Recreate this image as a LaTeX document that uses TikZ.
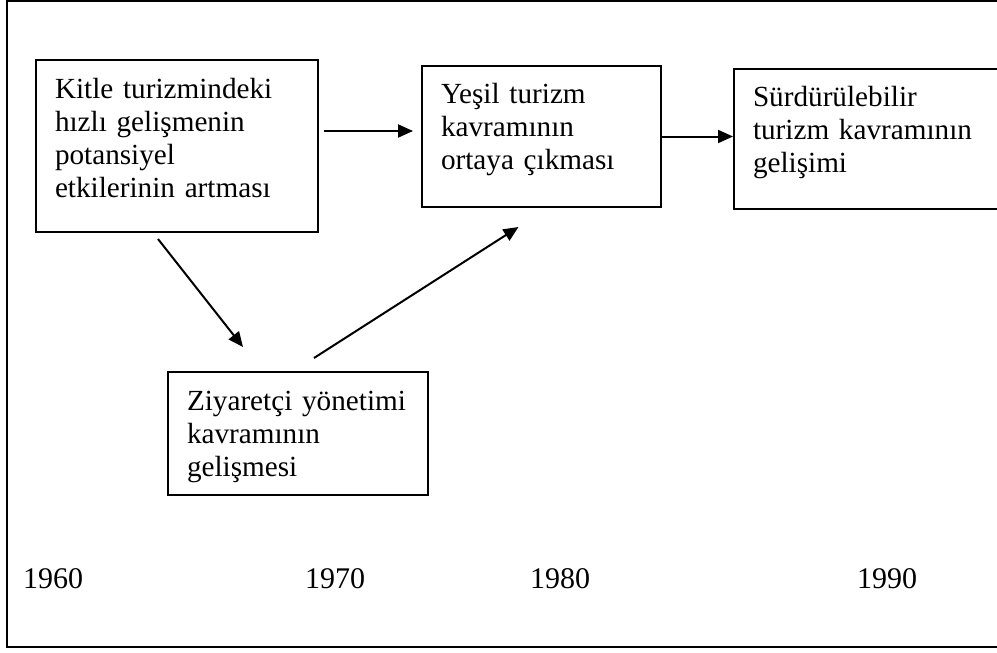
\documentclass[tikz,border=0pt]{standalone}
\usepackage{fontspec}
\setmainfont{Liberation Serif}
\usetikzlibrary{arrows.meta,calc}
\begin{document}
\begin{tikzpicture}[x=1pt,y=-1pt,
stagenode/.style={rectangle, draw, line width=2pt, anchor=north west, align=left, inner xsep=19pt, inner ysep=0pt, font=\fontsize{29.2}{33.3}\selectfont},
yearnode/.style={anchor=base west, inner sep=0pt, font=\fontsize{30}{34}\selectfont},
flow/.style={-{Triangle[length=15pt,width=13pt]}, line width=2pt},
]
\clip (0,0) rectangle (997,653);
\draw[line width=2.2pt] (7,1) rectangle (1012,647);
%Nodes
\node[stagenode, text width=244pt, text height=38pt, text depth=134pt] (kitle)   at (35,59)  {Kitle turizmindeki\\hızlı gelişmenin\\potansiyel\\etkilerinin artması};
\node[stagenode, text width=201pt, text height=37pt, text depth=104pt] (yesil)   at (421,65) {Yeşil turizm\\kavramının\\ortaya çıkması};
\node[stagenode, text width=242pt, text height=37pt, text depth=103pt] (surdur)  at (733,68) {Sürdürülebilir\\turizm kavramının\\gelişimi};
\node[stagenode, text width=222pt, text height=38pt, text depth=85pt]  (ziyaret) at (167,371) {Ziyaretçi yönetimi\\kavramının\\gelişmesi};
\node[yearnode] (y1960) at (23,588)  {1960};
\node[yearnode] (y1970) at (305,588) {1970};
\node[yearnode] (y1980) at (530,588) {1980};
\node[yearnode] (y1990) at (857,588) {1990};

%Lines
\draw[flow, shorten <=5pt, shorten >=8pt] (kitle.east |- 0,131) -- (yesil.west |- 0,131);
\draw[flow] (yesil.east) -- (yesil.east -| surdur.west);
\draw[flow] ($(kitle.south)+(-19,6)$) -- ($(ziyaret.north)+(-55,-24)$);
\draw[flow] ($(ziyaret.north)+(16,-13)$) -- ($(yesil.south)+(-23,19)$);
\end{tikzpicture}
\end{document}
